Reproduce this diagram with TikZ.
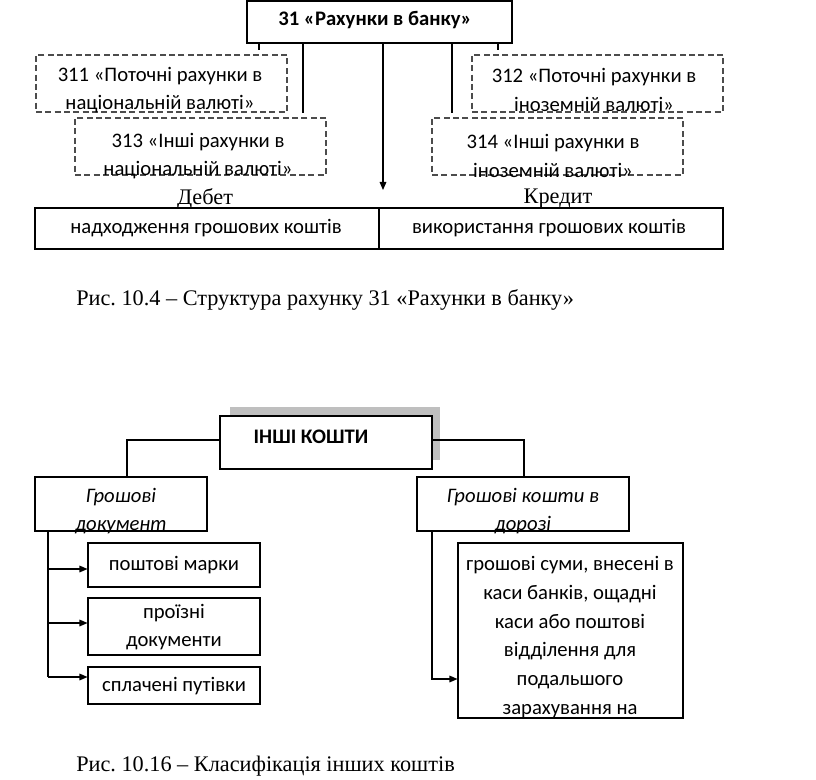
\documentclass[tikz,border=0pt]{standalone}
\usepackage{fontspec}
\setmainfont{Carlito}
\newfontfamily\capfont{Liberation Serif}
\usetikzlibrary{fit,arrows.meta}
\frenchspacing
\begin{document}
\begin{tikzpicture}[x=0.75pt,y=-0.75pt,
  box/.style={draw, line width=0.8pt, inner sep=0pt},
  dbox/.style={box, dash pattern=on 4.5pt off 2.5pt, draw=black!70},
  txt/.style={font=\fontsize{15.5}{21.5}\selectfont, align=center, inner sep=0pt},
  captxt/.style={font=\capfont\fontsize{16.7}{19}\selectfont, inner sep=0pt},
  ln/.style={line width=0.8pt},
  arr/.style={ln, -{Triangle[length=6pt,width=5pt]}}]
\useasboundingbox (0,0) rectangle (816,780);

% ---------- figure 10.4 ----------
\node[box, fit={(247,1)(512,43)}] (acc) {};
\node[txt, font=\bfseries\fontsize{15.5}{21.5}\selectfont] (acct) at (375,20) {31 «Рахунки в банку»};

\node[dbox, fit={(36,55)(287,112)}] (b311) {};
\node[txt] (t311) at (160,90) {311 «Поточні рахунки в\\національній валюті»};
\node[dbox, fit={(75,118)(326,175)}] (b313) {};
\node[txt] (t313) at (198,156) {313 «Інші рахунки в\\національній валюті»};
\node[dbox, fit={(472,55)(723,112)}] (b312) {};
\node[txt] (t312) at (594,90) {312 «Поточні рахунки в\\іноземній валюті»};
\node[dbox, fit={(432,118)(683,175)}] (b314) {};
\node[txt] (t314) at (553,156) {314 «Інші рахунки в\\іноземній валюті»};

\coordinate (e311) at (259,50);
\coordinate (e313) at (303,113);
\coordinate (e314) at (452,113);
\coordinate (e312) at (498,50);
\draw[ln] (acc.south -| e311) -- (e311);
\draw[ln] (acc.south -| e313) -- (e313);
\draw[ln] (acc.south -| e314) -- (e314);
\draw[ln] (acc.south -| e312) -- (e312);

\node[box, fit={(35,208)(379,249)}] (deb) {};
\node[box, fit={(379,208)(723,249)}] (cred) {};
\node[txt] (tdeb) at (206,228) {надходження грошових коштів};
\node[txt] (tcred) at (549,228) {використання грошових коштів};
\node[captxt] (ldeb) at (205,199) {Дебет};
\node[captxt] (lcred) at (558,199) {Кредит};
\coordinate (arrend) at (383,190);
\draw[arr] (acc.south -| arrend) -- (arrend);

\node[captxt, anchor=west] (cap1) at (76,300) {Рис. 10.4 – Структура рахунку 31 «Рахунки в банку»};

% ---------- figure 10.16 ----------
\fill[black!25] (230,407) rectangle (440,460);
\node[box, fill=white, fit={(220,416)(432,469)}] (main) {};
\node[txt, font=\bfseries\fontsize{15.5}{21.5}\selectfont] (tmain) at (311,437) {ІНШІ КОШТИ};

\node[box, fit={(35,477)(207,531)}] (gd) {};
\node[txt, font=\itshape\fontsize{15.5}{21.5}\selectfont] (tgd) at (121,511) {Грошові\\документ};
\node[box, fit={(417,477)(629,531)}] (gk) {};
\node[txt, font=\itshape\fontsize{15.5}{21.5}\selectfont] (tgk) at (523,511) {Грошові кошти в\\дорозі};

\draw[ln] (main.west |- 0,440) -| (gd.north -| 127,0);
\draw[ln] (main.east |- 0,440) -| (gk.north -| 524,0);

\node[box, fit={(88,543)(260,587)}] (pm) {};
\node[txt] (tpm) at (174,565) {поштові марки};
\node[box, fit={(88,598)(260,655)}] (pd) {};
\node[txt] (tpd) at (174,627) {проїзні\\документи};
\node[box, fit={(88,667)(260,704)}] (sp) {};
\node[txt] (tsp) at (174,686) {сплачені путівки};

\coordinate (lv) at (48,0);
\draw[ln] (gd.south -| lv) -- (48,677);
\draw[arr] (48,569) -- (pm.west |- 0,569);
\draw[arr] (48,623) -- (pd.west |- 0,623);
\draw[arr] (48,677) -- (sp.west |- 0,677);

\node[box, fit={(458,543)(683,718)}] (gs) {};
\node[txt, font=\fontsize{15.5}{21.6}\selectfont] (tgs) at (570,637) {грошові суми, внесені в\\каси банків, ощадні\\каси або поштові\\відділення для\\подальшого\\зарахування на};
\draw[arr] (gk.south -| 432,0) |- (gs.west |- 0,679);

\node[captxt, anchor=west] (cap2) at (76,766) {Рис. 10.16 – Класифікація інших коштів};
\end{tikzpicture}
\end{document}
